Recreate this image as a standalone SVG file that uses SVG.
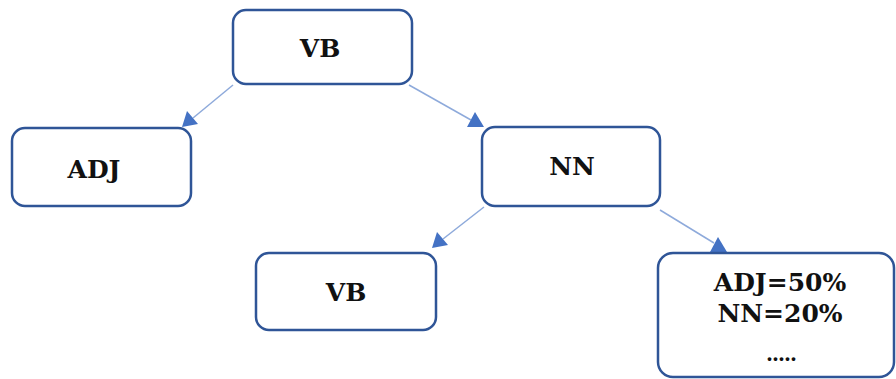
<svg xmlns="http://www.w3.org/2000/svg" width="896" height="379" viewBox="0 0 896 379">
  <defs>
    <style>
      .node rect { fill: #ffffff; stroke: #2F5597; stroke-width: 2.5; }
      .node text { font-family: "DejaVu Serif", "Liberation Serif", serif; font-weight: bold; font-size: 25px; fill: #111111; text-anchor: middle; }
      .node text.dots { font-size: 20px; letter-spacing: -1px; }
      .edge { stroke: #8EAADB; stroke-width: 1.5; fill: none; }
      .head { fill: #4472C4; }
    </style>
  </defs>

  <!-- tree edges: thin light-blue shafts with solid blue heads -->
  <g id="connectors">
    <line class="edge" x1="233" y1="85" x2="193" y2="118"/>
    <polygon class="head" points="182,127 187,111 198,124"/>
    <line class="edge" x1="409" y1="85" x2="471" y2="120"/>
    <polygon class="head" points="484,127 467,127 475,112"/>
    <line class="edge" x1="484" y1="207" x2="443" y2="239"/>
    <polygon class="head" points="432,248 437,232 448,245"/>
    <line class="edge" x1="660" y1="210" x2="714" y2="243"/>
    <polygon class="head" points="727,252 710,252 718,237"/>
  </g>

  <g id="node-vb-top" class="node">
    <rect x="233" y="10" width="179" height="74" rx="13"/>
    <text x="320" y="57">VB</text>
  </g>

  <g id="node-adj" class="node">
    <rect x="12" y="128" width="179" height="78" rx="13"/>
    <text x="94" y="178">ADJ</text>
  </g>

  <g id="node-nn" class="node">
    <rect x="482" y="127" width="178" height="79" rx="13"/>
    <text x="572" y="175">NN</text>
  </g>

  <g id="node-vb-bottom" class="node">
    <rect x="256" y="253" width="180" height="77" rx="13"/>
    <text x="346" y="301">VB</text>
  </g>

  <g id="node-distribution" class="node">
    <rect x="658" y="253" width="236" height="124" rx="15"/>
    <text x="780" y="291">ADJ=50%</text>
    <text x="780" y="322">NN=20%</text>
    <text class="dots" x="781" y="361">.....</text>
  </g>
</svg>
